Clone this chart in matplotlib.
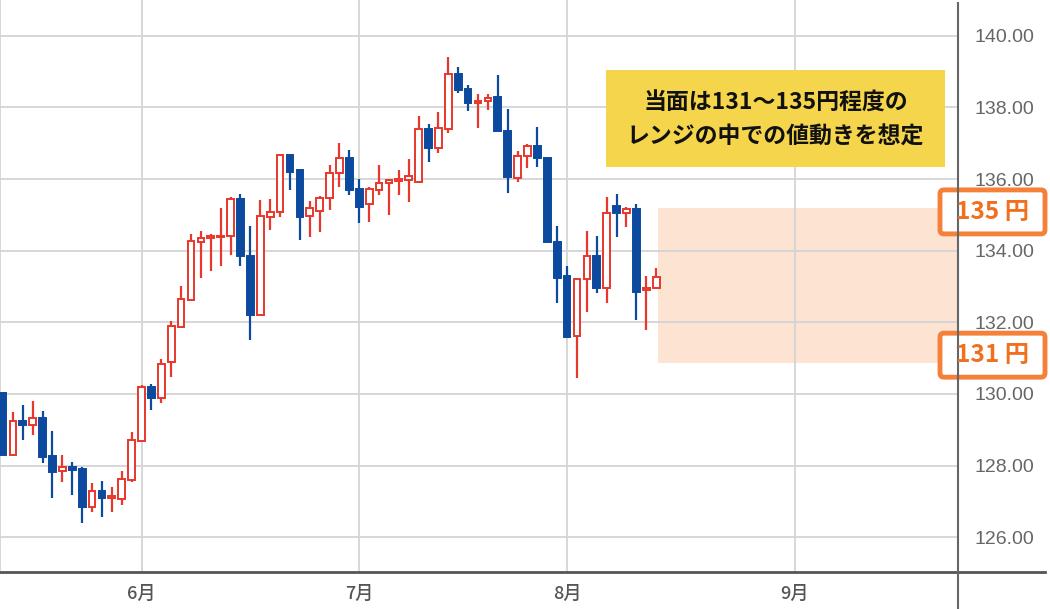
import matplotlib
matplotlib.use("Agg")
import matplotlib.pyplot as plt
from matplotlib.patches import Rectangle, FancyBboxPatch
from matplotlib.lines import Line2D
from matplotlib.transforms import IdentityTransform
import pandas as pd

plt.rcParams['font.family'] = ['Noto Sans CJK JP', 'DejaVu Sans']

# USD/JPY 日足 (2022/5/12 ～ 8/12)
start_date = '2022-05-12'
n_axis_days = 97  # 右端 (9月中旬) までの営業日数

opens = [130.03, 128.30, 129.25, 129.13, 129.34, 128.27, 127.85, 127.97, 127.90, 126.85,
         127.29, 127.09, 127.06, 127.60, 128.70, 130.19, 129.88, 130.90, 131.88, 132.63,
         134.25, 134.36, 134.37, 134.40, 135.44, 133.85, 132.21, 134.93, 135.09, 136.66,
         136.24, 134.97, 135.11, 135.47, 136.18, 136.60, 135.72, 135.31, 135.70, 135.90,
         135.96, 135.98, 135.93, 137.39, 136.86, 137.39, 138.93, 138.51, 138.13, 138.18,
         138.28, 137.35, 136.02, 136.65, 136.93, 136.60, 134.23, 133.30, 131.62, 133.20,
         133.85, 132.95, 135.25, 135.06, 135.16, 132.89, 132.95]
highs = [130.05, 129.50, 129.69, 129.81, 129.53, 128.97, 128.30, 128.11, 127.96, 127.52,
         127.58, 127.39, 127.86, 128.93, 130.25, 130.28, 130.97, 132.04, 133.02, 134.46,
         134.55, 134.46, 135.19, 135.51, 135.59, 134.69, 135.42, 135.44, 136.70, 136.70,
         136.24, 135.40, 135.54, 136.40, 137.02, 136.80, 136.00, 135.77, 136.40, 136.00,
         136.24, 136.56, 137.77, 137.54, 137.86, 139.41, 139.13, 138.63, 138.38, 138.38,
         138.91, 137.95, 136.79, 136.97, 137.45, 136.60, 134.69, 133.58, 133.20, 134.56,
         134.41, 135.49, 135.59, 135.22, 135.31, 133.30, 133.51]
lows = [128.30, 128.30, 128.72, 128.85, 128.07, 127.09, 127.55, 127.18, 126.40, 126.71,
        126.57, 126.71, 126.90, 127.55, 128.70, 129.55, 129.74, 130.48, 131.88, 132.63,
        133.23, 133.42, 133.58, 133.88, 133.56, 131.51, 132.21, 134.58, 134.94, 135.70,
        134.30, 134.39, 134.53, 135.14, 135.79, 135.56, 134.77, 134.81, 135.56, 135.00,
        135.56, 135.37, 135.93, 136.49, 136.72, 137.30, 138.40, 137.91, 137.42, 137.93,
        137.33, 135.61, 135.93, 136.30, 136.33, 134.23, 132.53, 131.60, 130.44, 132.30,
        132.81, 132.53, 134.39, 134.67, 132.07, 131.79, 132.95]
closes = [128.30, 129.25, 129.13, 129.34, 128.25, 127.83, 127.97, 127.88, 126.85, 127.29,
          127.09, 127.12, 127.62, 128.72, 130.19, 129.88, 130.84, 131.90, 132.65, 134.27,
          134.35, 134.40, 134.41, 135.44, 133.84, 132.21, 134.97, 135.09, 136.68, 136.21,
          134.95, 135.19, 135.48, 136.18, 136.58, 135.70, 135.23, 135.72, 135.90, 135.98,
          135.99, 136.09, 137.39, 136.86, 137.42, 138.93, 138.49, 138.12, 138.18, 138.26,
          137.33, 136.07, 136.65, 136.93, 136.58, 134.23, 133.23, 131.60, 133.20, 133.84,
          132.95, 135.06, 135.05, 135.16, 132.86, 132.97, 133.26]

# 想定レンジ
band_low = 130.87
band_high = 135.20
label_prices = [135, 131]
label_texts = ['135 円', '131 円']
y_ticks = [126, 128, 130, 132, 134, 136, 138, 140]
note_lines = ['当面は131～135円程度の', 'レンジの中での値動きを想定']

up_color = '#E8372C'
down_color = '#0B4A9E'
grid_color = '#D4D4D4'
orange = '#F5803A'

dates = pd.bdate_range(start_date, periods=n_axis_days)
month_pos = [i for i in range(1, len(dates)) if dates[i].month != dates[i - 1].month]
month_lab = [f'{dates[i].month}月' for i in month_pos]

W, H = 1050, 609
fig = plt.figure(figsize=(W / 100, H / 100), dpi=100)
ax = fig.add_axes([0, 37 / H, 958 / W, 1 - 37 / H])

x = list(range(len(opens)))
up = [c >= o for o, c in zip(opens, closes)]
body_bottom = [min(o, c) for o, c in zip(opens, closes)]
body_h = [max(abs(c - o), 0.05) for o, c in zip(opens, closes)]

# 想定レンジの帯 (最終足の右から)
ax.add_patch(Rectangle((len(opens) - 0.8, band_low), n_axis_days + 5, band_high - band_low,
                       facecolor='#FCE3D2', edgecolor='none', zorder=0))

# ひげ
ax.vlines(x, lows, highs, colors=[up_color if u else down_color for u in up], linewidth=1.6, zorder=2)
# 実体
ax.bar(x, body_h, bottom=body_bottom, width=0.68,
       color=['white' if u else down_color for u in up],
       edgecolor=[up_color if u else down_color for u in up], linewidth=1.4, zorder=3)

ax.set_xlim(-0.3, n_axis_days - 0.5)
ax.set_ylim(125.03, 141.0)

ax.set_yticks(y_ticks)
ax.set_yticklabels([f'{v:.2f}' for v in y_ticks])
ax.yaxis.tick_right()
ax.tick_params(axis='y', length=0, pad=12, labelsize=14, labelcolor='#666666')
for t in ax.get_yticklabels():
    t.set_fontfamily(['Liberation Sans', 'DejaVu Sans'])

ax.set_xticks(month_pos)
ax.set_xticklabels(month_lab)
ax.tick_params(axis='x', length=0, pad=9, labelsize=13, labelcolor='#555555')
for t in ax.get_xticklabels():
    t.set_fontweight('medium')

ax.grid(True, color=grid_color, linewidth=1.3, zorder=1)
ax.set_axisbelow(True)
for s in ['top', 'right', 'bottom']:
    ax.spines[s].set_visible(False)
ax.spines['left'].set_color(grid_color)
ax.spines['left'].set_linewidth(1.3)

# 軸線
fig.add_artist(Line2D([0, 1045 / W], [1 - 572 / H] * 2, color='#555555', linewidth=2))
fig.add_artist(Line2D([958 / W] * 2, [0, 1 - 3 / H], color='#666666', linewidth=1.5))

# コメント枠
fig.add_artist(Rectangle((606 / W, 1 - 167 / H), 339 / W, 97 / H,
                         facecolor='#F4D54B', edgecolor='none'))
for k, line in enumerate(note_lines):
    fig.text(775.5 / W, 1 - (103 + 34 * k) / H, line, ha='center', va='center',
             fontsize=16.5, fontweight='bold', color='#111111')

# 価格ラベル (ピクセル座標で角丸枠)
for p, lab in zip(label_prices, label_texts):
    yc = ax.transData.transform((0, p))[1] + 3
    fig.add_artist(FancyBboxPatch((940, yc - 22), 105, 44, boxstyle='round,pad=0,rounding_size=4',
                                  transform=IdentityTransform(), facecolor='white',
                                  edgecolor=orange, linewidth=3.5))
    fig.text(992 / W, yc / H, lab, ha='center', va='center',
             fontsize=17.5, fontweight='bold', color='#F07020')

fig.savefig('out.png', dpi=100)
